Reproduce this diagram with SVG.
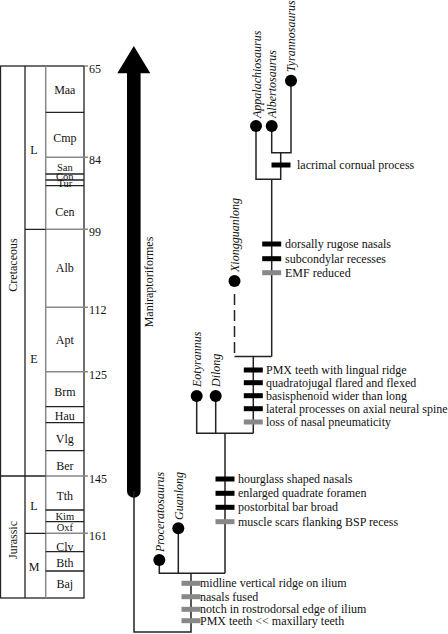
<svg xmlns="http://www.w3.org/2000/svg" width="448" height="634" viewBox="0 0 448 634">
<style>
text{font-family:"Liberation Serif","Times New Roman",serif;font-size:12px;fill:#111}
.st{text-anchor:middle}
.sm{font-size:10.5px}
.it{font-style:italic}
.ln{stroke:#222;stroke-width:1.3;fill:none}
.gl{stroke:#888;stroke-width:1.5;fill:none}
.br{stroke:#222;stroke-width:1.5;fill:none}
.bb{fill:#000}
.gb{fill:#888}
.dot{fill:#000}
</style>
<g id="timescale">
<rect x="0.5" y="66" width="83.5" height="532" class="ln"/>
<line x1="25" y1="66" x2="25" y2="598" class="ln"/>
<line x1="45.7" y1="66" x2="45.7" y2="598" class="gl"/>
<g class="ln">
<path d="M45.7 112.3H84M45.7 174H84M45.7 180H84M45.7 185.7H84M45.7 406.7H84M45.7 422.7H84M45.7 450.7H84M45.7 510H84M45.7 521.7H84M45.7 551.7H84M45.7 571H84"/>
<path d="M25 229.3H45.7M0 476H45.7M25 533.3H45.7"/>
</g>
<g class="gl">
<path d="M84 66H88M45.7 157.3H88M45.7 229.3H88M45.7 307.3H88M45.7 371.7H88M45.7 476H88M45.7 533.3H88"/>
</g>
<text x="89" y="73">65</text>
<text x="89" y="164.3">84</text>
<text x="89" y="236.3">99</text>
<text x="89" y="314.3">112</text>
<text x="89" y="378.7">125</text>
<text x="89" y="483">145</text>
<text x="89" y="540.3">161</text>
<text class="st" x="64.8" y="94">Maa</text>
<text class="st" x="64.8" y="142">Cmp</text>
<text class="st sm" x="64.8" y="170.5">San</text>
<text class="st sm" x="64.8" y="179.5">Con</text>
<text class="st sm" x="64.8" y="187">Tur</text>
<text class="st" x="64.8" y="216">Cen</text>
<text class="st" x="64.8" y="272">Alb</text>
<text class="st" x="64.8" y="344">Apt</text>
<text class="st" x="64.8" y="396">Brm</text>
<text class="st" x="64.8" y="420">Hau</text>
<text class="st" x="64.8" y="442.5">Vlg</text>
<text class="st" x="64.8" y="470">Ber</text>
<text class="st" x="64.8" y="500">Tth</text>
<text class="st sm" x="64.8" y="519.5">Kim</text>
<text class="st sm" x="64.8" y="531">Oxf</text>
<text class="st" x="64.8" y="550.5">Clv</text>
<text class="st" x="64.8" y="567">Bth</text>
<text class="st" x="64.8" y="588">Baj</text>
<text class="st" x="34" y="154">L</text>
<text class="st" x="34" y="362.5">E</text>
<text class="st" x="34" y="510">L</text>
<text class="st" x="34" y="570.5">M</text>
<text class="st" transform="translate(16.5 265) rotate(-90)">Cretaceous</text>
<text class="st" transform="translate(16.5 540) rotate(-90)">Jurassic</text>
</g>
<g id="maniraptoriformes">
<path d="M127 73.3H117.3L133.8 46L150.3 73.3H140.6V491A6.8 6.8 0 0 1 127 491Z" fill="#000"/>
<text class="st" transform="translate(153 282) rotate(-90)">Maniraptoriformes</text>
</g>
<g id="connectors" class="br">
<path d="M134 491V632H191V573.3"/>
<path d="M159.3 560V573.3H225M178.3 528.3V573.3"/>
<path d="M225 573.3V433.3"/>
<path d="M196.7 396V433.3H253.3M215.7 396V433.3"/>
<path d="M253.3 433.3V356.5M234.5 356.5H271.7"/>
<path d="M234.5 294V356.5" stroke-dasharray="11 5"/>
<path d="M271.7 356.5V179.3"/>
<path d="M256 126V179.3H280.7V152.7M271.7 126V152.7H291V80.7"/>
</g>
<g id="taxa">
<g id="Tyrannosaurus"><circle class="dot" cx="291" cy="80.7" r="6"/><text class="it" transform="translate(295 72) rotate(-90)">Tyrannosaurus</text></g>
<g id="Albertosaurus"><circle class="dot" cx="271.7" cy="126" r="6"/><text class="it" transform="translate(276 118) rotate(-90)">Albertosaurus</text></g>
<g id="Appalachiosaurus"><circle class="dot" cx="256" cy="126" r="6"/><text class="it" transform="translate(260.5 118) rotate(-90)">Appalachiosaurus</text></g>
<g id="Xiongguanlong"><circle class="dot" cx="234.5" cy="281" r="6"/><text class="it" transform="translate(238.5 272) rotate(-90)">Xiongguanlong</text></g>
<g id="Eotyrannus"><circle class="dot" cx="196.7" cy="396" r="6"/><text class="it" transform="translate(201 387) rotate(-90)">Eotyrannus</text></g>
<g id="Dilong"><circle class="dot" cx="215.7" cy="396" r="6"/><text class="it" transform="translate(220 387) rotate(-90)">Dilong</text></g>
<g id="Guanlong"><circle class="dot" cx="178.3" cy="528.3" r="6"/><text class="it" transform="translate(182.5 520) rotate(-90)">Guanlong</text></g>
<g id="Proceratosaurus"><circle class="dot" cx="159.3" cy="560" r="6"/><text class="it" transform="translate(163.5 552) rotate(-90)">Proceratosaurus</text></g>
</g>
<g id="characters">
<g id="tyr-chars"><rect class="bb" x="271.5" y="162.5" width="19" height="5"/><text x="297" y="169">lacrimal cornual process</text></g>
<g id="albtyr-chars">
<rect class="bb" x="262.2" y="241.5" width="19" height="5"/><text x="285" y="248">dorsally rugose nasals</text>
<rect class="bb" x="262.2" y="256.2" width="19" height="5"/><text x="285" y="262.7">subcondylar recesses</text>
<rect class="gb" x="262.2" y="270.2" width="19" height="5"/><text x="285" y="276.7">EMF reduced</text>
</g>
<g id="xio-chars">
<rect class="bb" x="243.8" y="367.5" width="19" height="5"/><text x="266" y="374">PMX teeth with lingual ridge</text>
<rect class="bb" x="243.8" y="380.2" width="19" height="5"/><text x="266" y="386.7">quadratojugal flared and flexed</text>
<rect class="bb" x="243.8" y="393.2" width="19" height="5"/><text x="266" y="399.7">basisphenoid wider than long</text>
<rect class="bb" x="243.8" y="406.2" width="19" height="5"/><text x="266" y="412.7">lateral processes on axial neural spine</text>
<rect class="gb" x="243.8" y="419.5" width="19" height="5"/><text x="266" y="426">loss of nasal pneumaticity</text>
</g>
<g id="eot-chars">
<rect class="bb" x="215.5" y="476.5" width="19" height="5"/><text x="238" y="483">hourglass shaped nasals</text>
<rect class="bb" x="215.5" y="490.8" width="19" height="5"/><text x="238" y="497.3">enlarged quadrate foramen</text>
<rect class="bb" x="215.5" y="504.8" width="19" height="5"/><text x="238" y="511.3">postorbital bar broad</text>
<rect class="gb" x="215.5" y="519.2" width="19" height="5"/><text x="238" y="525.7">muscle scars flanking BSP recess</text>
</g>
<g id="base-chars">
<rect class="gb" x="181.5" y="580.8" width="19" height="5"/><text x="200" y="587.3">midline vertical ridge on ilium</text>
<rect class="gb" x="181.5" y="594.2" width="19" height="5"/><text x="200" y="600.7">nasals fused</text>
<rect class="gb" x="181.5" y="606.8" width="19" height="5"/><text x="200" y="613.3">notch in rostrodorsal edge of ilium</text>
<rect class="gb" x="181.5" y="618.2" width="19" height="5"/><text x="200" y="624.7">PMX teeth &lt;&lt; maxillary teeth</text>
</g>
</g>
</svg>
